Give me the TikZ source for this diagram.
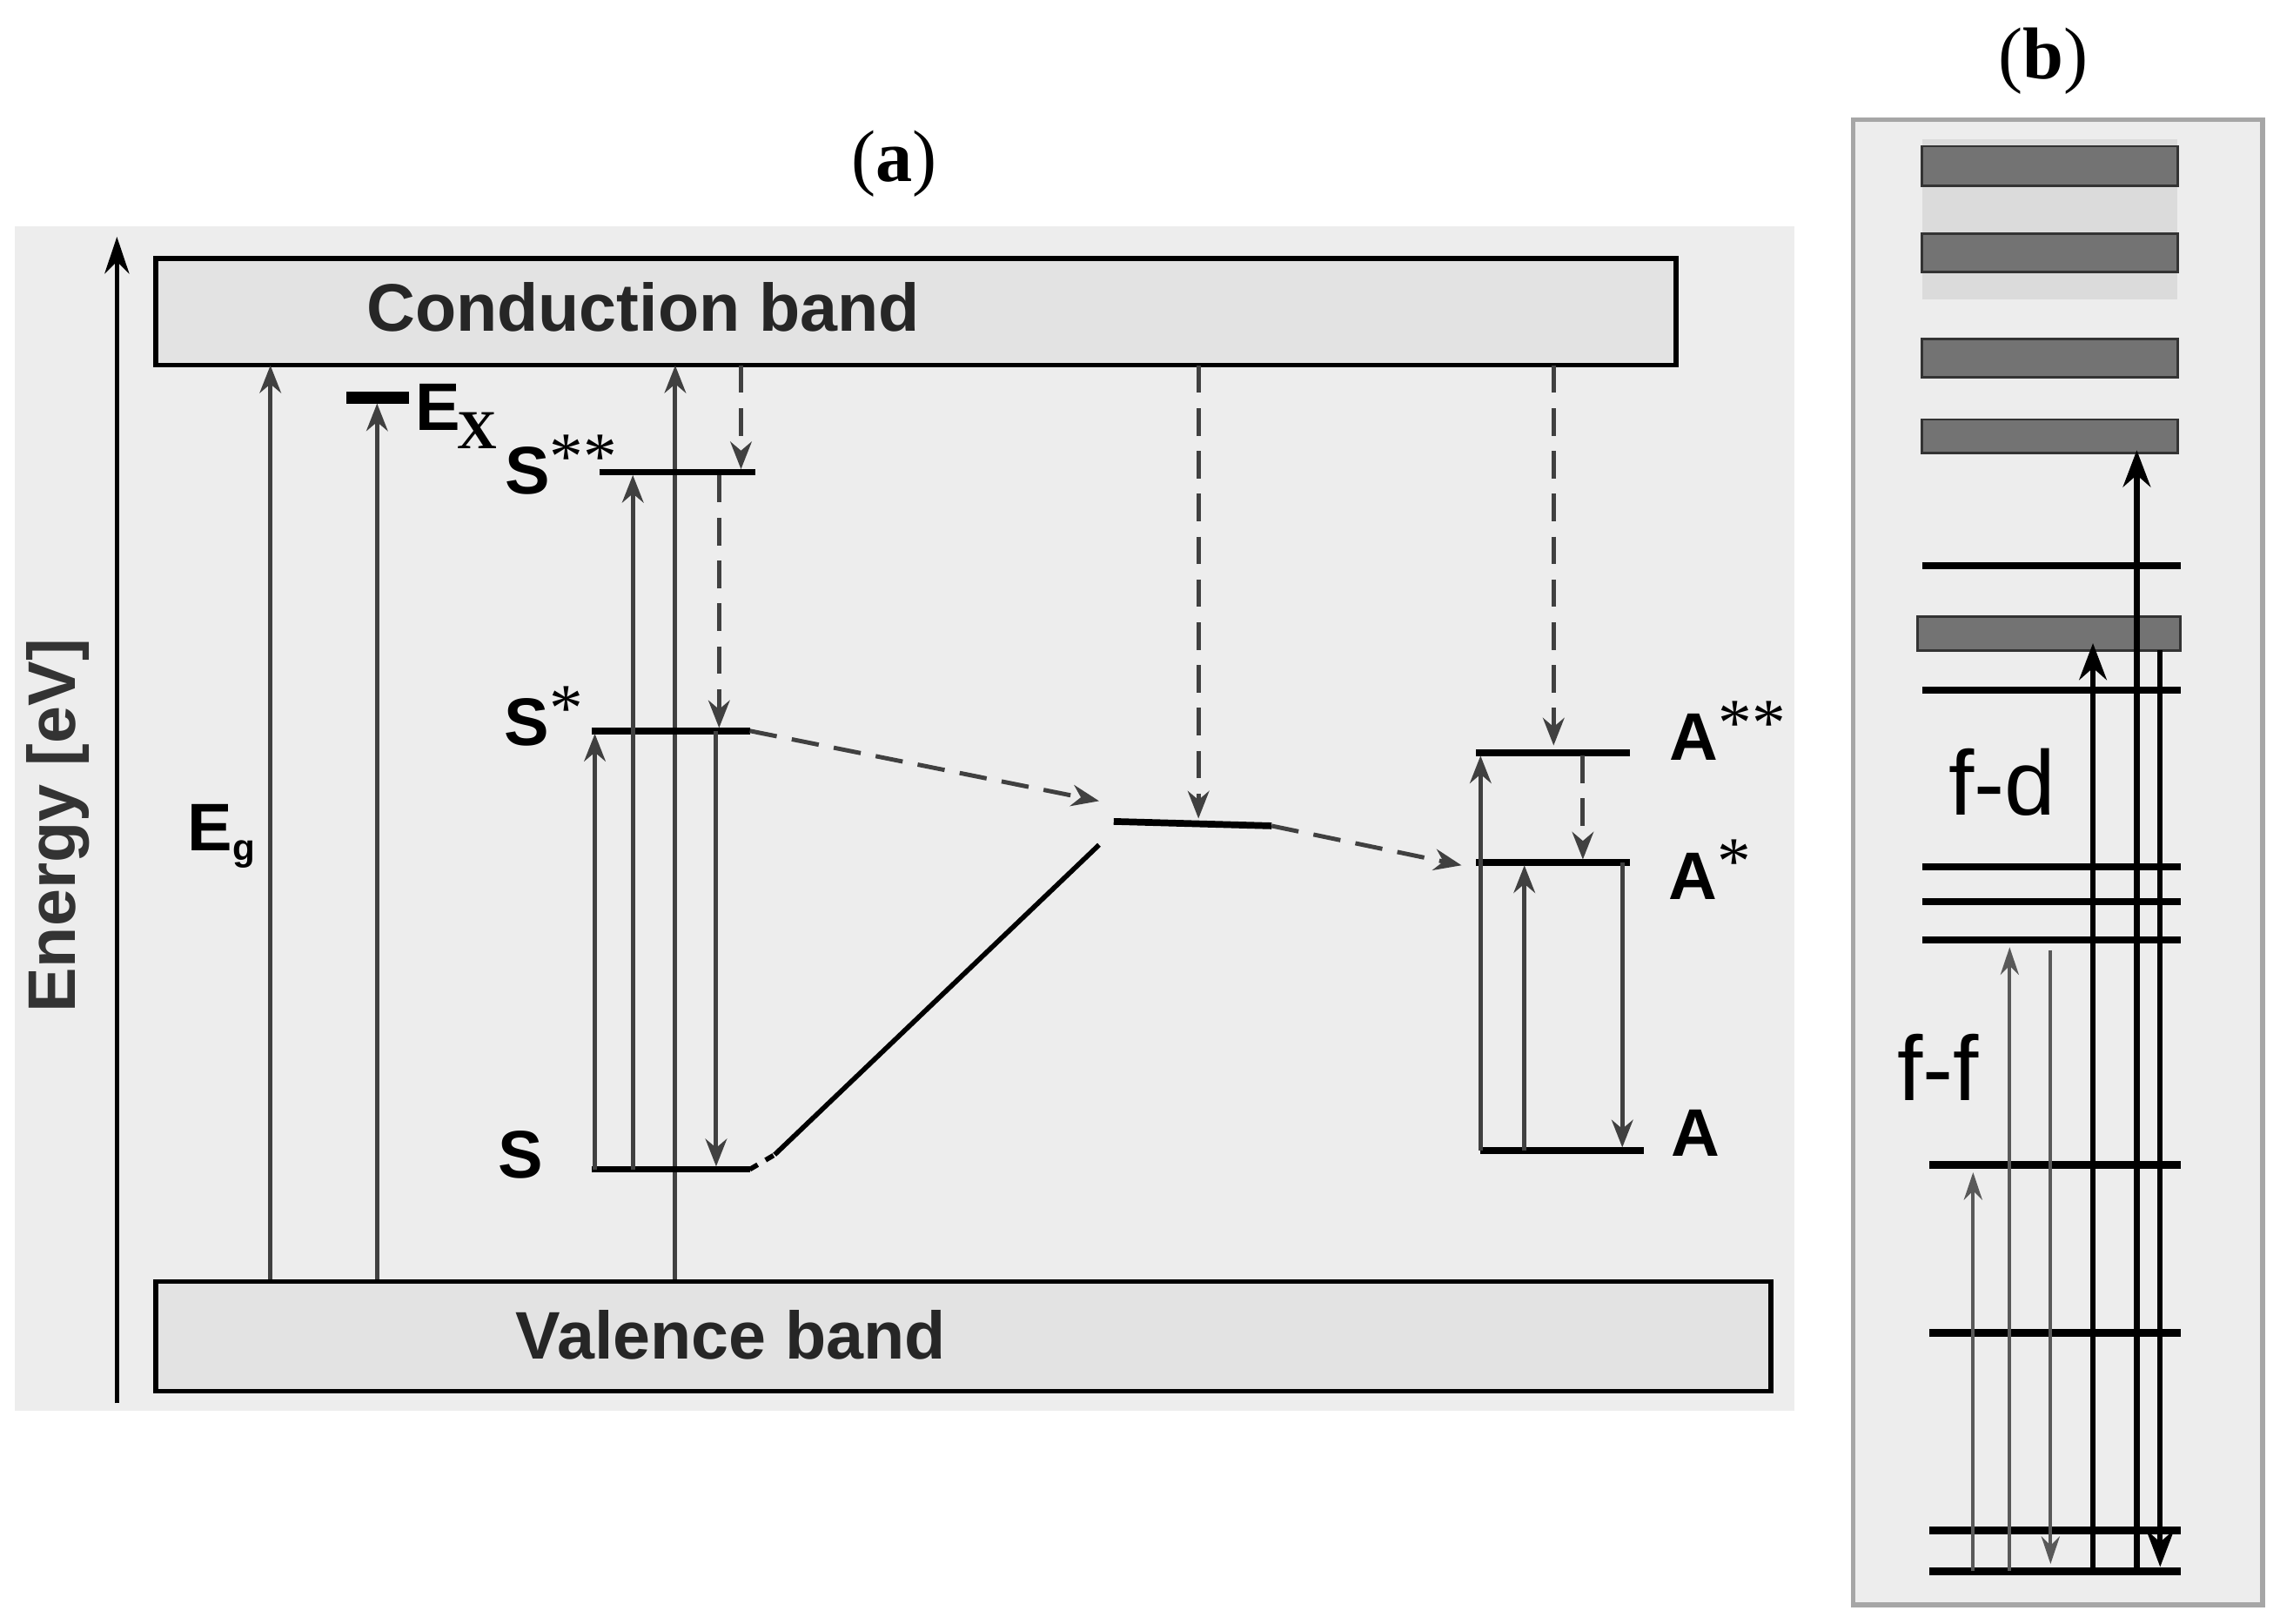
\documentclass[tikz,border=0pt]{standalone}
\usepackage{fontspec}
\setmainfont{Liberation Serif}
\newfontfamily\sansf{Liberation Sans}
\usetikzlibrary{arrows.meta}
\begin{document}
\begin{tikzpicture}[x=0.0168cm,y=-0.0168cm,
 lev/.style={line width=2.2pt},
 up/.style={line width=1.4pt,draw=black!75,-{Stealth[length=9pt,width=7pt]}},
 dn/.style={line width=1.4pt,draw=black!75,dashed,dash pattern=on 9pt off 5pt,-{Stealth[length=9pt,width=7pt]}},
 lab/.style={font=\sansf\bfseries\fontsize{22}{24}\selectfont},
 band/.style={draw=black,line width=1.6pt,fill=black!11},
 gb/.style={draw=black!80,line width=0.8pt,fill=black!55},
 fl/.style={line width=2.4pt},
 fup/.style={line width=1.2pt,draw=black!65,-{Stealth[length=9pt,width=6pt]}},
 bup/.style={line width=1.8pt,-{Stealth[length=12pt,width=9pt]}}]
\useasboundingbox (0,0) rectangle (1560,1111);
% panel a
\fill[black!7] (10,155) rectangle (1228,965);
\node[font=\fontsize{24}{26}\selectfont] (ta) at (612,112) {(\textbf{a})};
\coordinate (ax0) at (80,960); \coordinate (ax1) at (80,162);
\draw[line width=1.5pt,-{Stealth[length=12pt,width=8pt]}] (ax0) -- (ax1);
\node[font=\sansf\bfseries\fontsize{22}{24}\selectfont,rotate=90,text=black!80] (en) at (40,565) {Energy [eV]};
\node[band,minimum width=1040*0.0168cm,minimum height=73*0.0168cm,anchor=north west] (cb) at (105,175) {};
\node[lab,text=black!85] at (440,210) {Conduction band};
\node[band,minimum width=1105*0.0168cm,minimum height=75*0.0168cm,anchor=north west] (vb) at (105,875) {};
\node[lab,text=black!85] at (500,913) {Valence band};
% Eg, Ex
\draw[up] (185,875) -- (185,250);
\node[lab] at (152,572) {E\textsubscript{\fontsize{12}{12}\selectfont g}};
\draw[line width=4pt] (237,272) -- (280,272);
\draw[up] (258,875) -- (258,276);
\node[lab,anchor=west,inner sep=0pt] at (284,285) {E\kern-1pt\raisebox{-6pt}{\rmfamily\bfseries\fontsize{18}{18}\selectfont X}};
\draw[up] (462,875) -- (462,250);
% S levels
\draw[lev] (410,323) -- (517,323);
\draw[lev] (405,500) -- (513,500);
\draw[lev] (405,800) -- (513,800);
\node[lab,anchor=west,inner sep=0pt] at (345,318) {S\raisebox{5pt}{\normalfont**}};
\node[lab] at (372,490) {S\raisebox{5pt}{\normalfont*}};
\node[lab] at (356,790) {S};
\draw[up] (433,800) -- (433,325);
\draw[up] (407,800) -- (407,502);
\draw[up] (490,500) -- (490,798);
\draw[dn] (507,250) -- (507,321);
\draw[dn] (492,325) -- (492,498);
% centre
\draw[lev] (762,562) -- (870,565);
\draw[dn] (820,250) -- (820,560);
\draw[dn] (513,500) -- (752,548);
\draw[line width=1.6pt,dashed] (513,800) -- (530,790);
\draw[line width=1.6pt] (530,790) -- (752,578);
\draw[dn] (870,565) -- (1000,592);
% A levels
\draw[lev] (1010,515) -- (1115,515);
\draw[lev] (1010,590) -- (1115,590);
\draw[lev] (1013,787) -- (1125,787);
\node[lab] at (1182,500) {A\raisebox{5pt}{\normalfont**}};
\node[lab] at (1170,595) {A\raisebox{5pt}{\normalfont*}};
\node[lab] at (1160,775) {A};
\draw[up] (1013,787) -- (1013,517);
\draw[up] (1043,787) -- (1043,592);
\draw[up] (1110,590) -- (1110,785);
\draw[dn] (1063,250) -- (1063,510);
\draw[dn] (1083,517) -- (1083,588);
% panel b
\node[font=\fontsize{24}{26}\selectfont] (tb) at (1398,42) {(\textbf{b})};
\draw[black!35,line width=1.5pt,fill=black!7] (1268,82) rectangle (1548,1098);
\fill[black!14] (1315,95) rectangle (1490,205);
\draw[gb] (1315,100) rectangle (1490,127);
\draw[gb] (1315,160) rectangle (1490,186);
\draw[gb] (1315,232) rectangle (1490,258);
\draw[gb] (1315,287) rectangle (1490,310);
\draw[gb] (1312,422) rectangle (1492,445);
\foreach \y in {387,472,593,617,643} \draw[fl] (1315,\y) -- (1492,\y);
\foreach \y in {797,912,1047,1075} \draw[fl] (1320,\y) -- (1492,\y);
\node[font=\sansf\fontsize{30}{32}\selectfont] at (1370,535) {f-d};
\node[font=\sansf\fontsize{30}{32}\selectfont] at (1326,730) {f-f};
\draw[fup] (1350,1075) -- (1350,802);
\draw[fup] (1375,1075) -- (1375,648);
\draw[fup] (1403,650) -- (1403,1070);
\draw[bup] (1432,1075) -- (1432,440);
\draw[bup] (1462,1075) -- (1462,308);
\draw[bup] (1478,445) -- (1478,1072);
\end{tikzpicture}
\end{document}
